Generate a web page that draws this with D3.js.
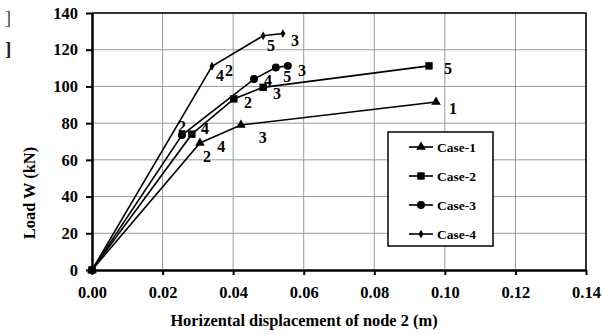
<!DOCTYPE html>
<html>
<head>
<meta charset="utf-8">
<script src="https://cdn.jsdelivr.net/npm/d3@7"></script>
<style>
  html, body { margin: 0; padding: 0; background: #fff; }
  svg { display: block; font-family: "Liberation Serif", "Times New Roman", serif; font-weight: bold; }
</style>
</head>
<body>
<div id="chart"></div>
<script>
/* ── Data ─────────────────────────────────────────────────────────────── */
const xTicks = [0, 0.02, 0.04, 0.06, 0.08, 0.10, 0.12, 0.14];
const yTicks = [0, 20, 40, 60, 80, 100, 120, 140];

const case1X = [0, 0.0306, 0.0422, 0.0975];
const case1Y = [0, 69.2, 79.0, 91.5];
const case2X = [0, 0.0283, 0.0402, 0.0485, 0.0955];
const case2Y = [0, 74.0, 93.2, 99.5, 111.2];
const case3X = [0, 0.0255, 0.0459, 0.0521, 0.0555];
const case3Y = [0, 73.5, 104.0, 110.3, 111.2];
const case4X = [0, 0.0340, 0.0485, 0.0541];
const case4Y = [0, 111.0, 127.6, 128.8];

// node-number annotations next to the points
const noteText = ['2', '4', '3', '1', '4', '2', '3', '5', '2', '4', '5', '3', '4', '2', '5', '3'];
const noteX = [0.0326, 0.0366, 0.0484, 0.1023, 0.0320, 0.0442, 0.0524, 0.1009,
               0.0255, 0.0499, 0.0553, 0.0595, 0.0363, 0.0388, 0.0507, 0.0575];
const noteY = [62.1, 67.5, 72.5, 88.2, 77.4, 91.5, 96.4, 110.0,
               78.4, 103.5, 105.7, 109.0, 106.2, 109.0, 122.6, 125.3];

const series = [
  { name: 'Case-1', xs: case1X, ys: case1Y, symbol: d3.symbolTriangle, size: 40 },
  { name: 'Case-2', xs: case2X, ys: case2Y, symbol: d3.symbolSquare, size: 55 },
  { name: 'Case-3', xs: case3X, ys: case3Y, symbol: d3.symbolCircle, size: 50 },
  { name: 'Case-4', xs: case4X, ys: case4Y, symbol: d3.symbolDiamond, size: 22 },
];

/* ── Layout ───────────────────────────────────────────────────────────── */
const W = 603, H = 334;
const margin = { top: 13, right: 17, bottom: 64, left: 92 };
const width = W - margin.left - margin.right;
const height = H - margin.top - margin.bottom;

const svg = d3.select('#chart').append('svg')
  .attr('width', W).attr('height', H);

// stray marks at left edge of the original scan
svg.append('text').attr('x', 5).attr('y', 24).style('font-size', '18px')
  .style('font-weight', 'normal').style('fill', '#444').text(']');
svg.append('text').attr('x', 5).attr('y', 55).style('font-size', '19px')
  .style('fill', '#222').text(']');

const g = svg.append('g').attr('transform', `translate(${margin.left},${margin.top})`);

const x = d3.scaleLinear().domain([0, 0.14]).range([0, width]);
const y = d3.scaleLinear().domain([0, 140]).range([height, 0]);

// Gridlines
g.append('g').selectAll('line').data(xTicks.slice(1)).join('line')
  .attr('x1', d => x(d)).attr('x2', d => x(d)).attr('y1', 0).attr('y2', height)
  .attr('stroke', '#9a9a9a').attr('stroke-width', 1);
g.append('g').selectAll('line').data(yTicks.slice(1)).join('line')
  .attr('x1', 0).attr('x2', width).attr('y1', d => y(d)).attr('y2', d => y(d))
  .attr('stroke', '#9a9a9a').attr('stroke-width', 1);

// Frame (top, right)
g.append('path')
  .attr('d', `M0,0H${width}V${height}`)
  .attr('fill', 'none').attr('stroke', '#000').attr('stroke-width', 1.5);

// Axes
const xAxis = g.append('g').attr('transform', `translate(0,${height})`)
  .call(d3.axisBottom(x).tickValues(xTicks).tickFormat(d3.format('.2f'))
    .tickSizeInner(5).tickSizeOuter(0).tickPadding(11));
const yAxis = g.append('g')
  .call(d3.axisLeft(y).tickValues(yTicks).tickFormat(d3.format('d'))
    .tickSizeInner(6).tickSizeOuter(0).tickPadding(8));
[xAxis, yAxis].forEach(a => {
  a.select('.domain').attr('stroke-width', 2.5);
  a.selectAll('.tick line').attr('stroke-width', 2);
  a.selectAll('text').style('font-size', '16.5px').style('font-family', '"Liberation Serif", serif')
    .style('font-weight', 'bold').attr('fill', '#000');
});

// Axis titles
svg.append('text')
  .attr('x', 304).attr('y', 326)
  .attr('text-anchor', 'middle').style('font-size', '16.4px')
  .text('Horizental displacement of node 2 (m)');
svg.append('text')
  .attr('transform', 'translate(35,193) rotate(-90)')
  .attr('text-anchor', 'middle').style('font-size', '16.4px')
  .text('Load W (kN)');

// Series lines + markers
const line = d3.line().x(d => x(d[0])).y(d => y(d[1]));
series.forEach(s => {
  const pts = s.xs.map((v, i) => [v, s.ys[i]]);
  g.append('path').datum(pts)
    .attr('d', line).attr('fill', 'none')
    .attr('stroke', '#000').attr('stroke-width', 1.6);
  g.append('g').selectAll('path').data(pts).join('path')
    .attr('transform', d => `translate(${x(d[0])},${y(d[1])})`)
    .attr('d', d3.symbol().type(s.symbol).size(s.size))
    .attr('fill', '#000');
});

// Annotations
g.append('g').selectAll('text').data(noteText).join('text')
  .attr('x', (d, i) => x(noteX[i])).attr('y', (d, i) => y(noteY[i]))
  .attr('text-anchor', 'middle').attr('dy', '0.35em')
  .style('font-size', '16px')
  .text(d => d);

// Legend
const lg = svg.append('g').attr('transform', 'translate(388,132)');
lg.append('rect').attr('width', 105).attr('height', 114)
  .attr('fill', '#fff').attr('stroke', '#000').attr('stroke-width', 1.5);
series.forEach((s, i) => {
  const ly = 15 + i * 29;
  lg.append('line').attr('x1', 21).attr('x2', 45).attr('y1', ly).attr('y2', ly)
    .attr('stroke', '#000').attr('stroke-width', 1.6);
  lg.append('path').attr('transform', `translate(33,${ly})`)
    .attr('d', d3.symbol().type(s.symbol).size(s.size)).attr('fill', '#000');
  lg.append('text').attr('x', 49).attr('y', ly).attr('dy', '0.35em')
    .style('font-size', '13.5px').text(s.name);
});
</script>
</body>
</html>
